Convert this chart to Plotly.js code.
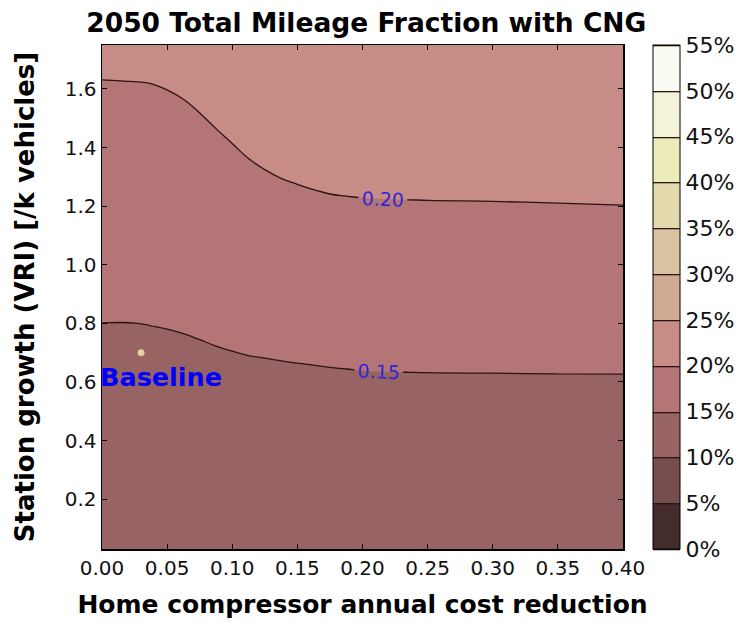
<!DOCTYPE html>
<html>
<head>
<meta charset="utf-8">
<script src="https://cdn.plot.ly/plotly-3.0.1.min.js"></script>
<style>
  html, body { margin: 0; padding: 0; background: #ffffff; }
  #chart { width: 743px; height: 623px; }
</style>
</head>
<body>
<div id="chart"></div>
<script>
// Grid axes: home compressor annual cost reduction (x) and station growth, VRI per 1000 vehicles (y)
const costReduction = [0, 0.025, 0.0375, 0.05, 0.0625, 0.075, 0.0875, 0.1, 0.1125, 0.125,
                       0.1375, 0.15, 0.1625, 0.175, 0.1875, 0.2, 0.25, 0.3, 0.35, 0.4];
const stationGrowth = [0.03, 0.4, 0.8, 1.2, 1.6, 1.75];

// 2050 total mileage fraction with CNG; one row per station-growth value
const mileageFraction = [
  [0.1036, 0.1032, 0.1039, 0.1041, 0.1041, 0.1038, 0.1034, 0.1024, 0.1010, 0.1012,
   0.1013, 0.1015, 0.1016, 0.1018, 0.1019, 0.1020, 0.1022, 0.1023, 0.1024, 0.1025],
  [0.1258, 0.1257, 0.1263, 0.1267, 0.1272, 0.1277, 0.1283, 0.1285, 0.1284, 0.1282,
   0.1282, 0.1283, 0.1285, 0.1289, 0.1293, 0.1298, 0.1303, 0.1304, 0.1304, 0.1303],
  [0.1499, 0.1499, 0.1505, 0.1512, 0.1522, 0.1536, 0.1552, 0.1567, 0.1582, 0.1592,
   0.1603, 0.1611, 0.1619, 0.1627, 0.1632, 0.1637, 0.1643, 0.1645, 0.1648, 0.1650],
  [0.1740, 0.1742, 0.1747, 0.1757, 0.1772, 0.1794, 0.1822, 0.1849, 0.1879, 0.1903,
   0.1924, 0.1939, 0.1953, 0.1965, 0.1971, 0.1976, 0.1983, 0.1986, 0.1991, 0.1997],
  [0.1981, 0.1985, 0.1989, 0.2002, 0.2022, 0.2053, 0.2091, 0.2131, 0.2177, 0.2214,
   0.2245, 0.2266, 0.2287, 0.2302, 0.2310, 0.2315, 0.2323, 0.2328, 0.2335, 0.2343],
  [0.2072, 0.2076, 0.2080, 0.2094, 0.2116, 0.2150, 0.2192, 0.2237, 0.2289, 0.2330,
   0.2365, 0.2389, 0.2412, 0.2429, 0.2437, 0.2442, 0.2451, 0.2456, 0.2464, 0.2473]
];

// Contour levels (fraction) and colour-bar ticks
const levelStart = 0;
const levelEnd = 0.55;
const levelStep = 0.05;
const colorbarTicks = [0, 0.05, 0.1, 0.15, 0.2, 0.25, 0.3, 0.35, 0.4, 0.45, 0.5, 0.55];

// Baseline scenario
const baselineX = [0.03];
const baselineY = [0.70];
const baselineLabel = 'Baseline';

// Band fills, dark to light (pink colour map sampled at each band's middle)
const bandColors = [
  '#442c2c', '#754d4d', '#986363', '#b37575', '#c78c85', '#d0aa93',
  '#d9c3a0', '#e2d9ac', '#ebebbc', '#f3f3d9', '#fbfbf3'
];
const nBands = bandColors.length;
const colorscale = [[0, bandColors[0]]];
bandColors.forEach((c, i) => colorscale.push([(i + 0.5) / nBands, c]));
colorscale.push([1, bandColors[nBands - 1]]);

const FONT = 'DejaVu Sans';

const contourTrace = {
  type: 'contour',
  x: costReduction,
  y: stationGrowth,
  z: mileageFraction,
  zmin: levelStart,
  zmax: levelEnd,
  autocontour: false,
  contours: {
    start: levelStart,
    end: levelEnd,
    size: levelStep,
    coloring: 'fill',
    showlines: true,
    showlabels: true,
    labelformat: '.2f',
    labelfont: { family: FONT, size: 19, color: '#3325d8' }
  },
  line: { color: '#2b1414', width: 1.3, smoothing: 1.3 },
  colorscale: colorscale,
  hoverinfo: 'skip',
  colorbar: {
    thickness: 27,
    thicknessmode: 'pixels',
    len: 1,
    lenmode: 'fraction',
    x: 1.0576,
    xanchor: 'left',
    xpad: 0,
    y: 0.5,
    yanchor: 'middle',
    ypad: 0,
    outlinecolor: '#000000',
    outlinewidth: 1,
    ticks: '',
    tickmode: 'array',
    tickvals: colorbarTicks,
    tickformat: '.0%',
    tickfont: { family: FONT, size: 22, color: '#111111' }
  }
};

const baselineTrace = {
  type: 'scatter',
  mode: 'markers',
  x: baselineX,
  y: baselineY,
  marker: { symbol: 'circle', size: 8, color: '#e9cfae', line: { color: '#9a6a50', width: 1 } },
  hoverinfo: 'skip',
  showlegend: false
};

const layout = {
  width: 743,
  height: 623,
  margin: { l: 102, r: 120, t: 45, b: 74 },
  paper_bgcolor: '#ffffff',
  plot_bgcolor: '#ffffff',
  font: { family: FONT, color: '#000000' },
  showlegend: false,
  title: {
    text: '<b>2050 Total Mileage Fraction with CNG</b>',
    font: { family: FONT, size: 26.5, color: '#000000' },
    xref: 'container', x: 0.493, xanchor: 'center',
    yref: 'container', y: 0.963, yanchor: 'middle'
  },
  xaxis: {
    range: [0, 0.4],
    tick0: 0,
    dtick: 0.05,
    tickformat: '.2f',
    ticks: 'inside',
    ticklen: 5,
    tickcolor: '#000000',
    showline: true,
    linecolor: '#000000',
    linewidth: 1.5,
    mirror: 'ticks',
    showgrid: false,
    zeroline: false,
    tickfont: { family: FONT, size: 20, color: '#111111' },
    title: {
      text: '<b>Home compressor annual cost reduction</b>',
      font: { family: FONT, size: 25, color: '#000000' },
      standoff: 17
    }
  },
  yaxis: {
    range: [0.03, 1.75],
    tick0: 0,
    dtick: 0.2,
    tickformat: '.1f',
    ticks: 'inside',
    ticklen: 5,
    tickcolor: '#000000',
    showline: true,
    linecolor: '#000000',
    linewidth: 1.5,
    mirror: 'ticks',
    showgrid: false,
    zeroline: false,
    tickfont: { family: FONT, size: 20, color: '#111111' },
    title: {
      text: '<b>Station growth (VRI) [/k vehicles]</b>',
      font: { family: FONT, size: 26, color: '#000000' },
      standoff: 22
    }
  },
  annotations: [{
    x: 0.045, y: 0.617, xref: 'x', yref: 'y',
    text: '<b>' + baselineLabel + '</b>',
    showarrow: false,
    xanchor: 'center', yanchor: 'middle',
    font: { family: FONT, size: 25.5, color: '#0000ff' }
  }]
};

Plotly.newPlot('chart', [contourTrace, baselineTrace], layout, { displayModeBar: false, staticPlot: true });
</script>
</body>
</html>
